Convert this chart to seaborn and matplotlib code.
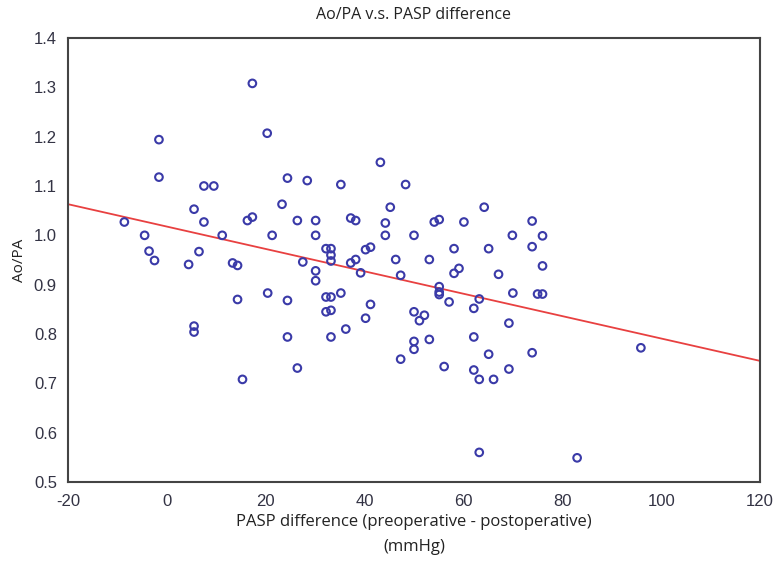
import matplotlib
matplotlib.use("Agg")
import matplotlib.pyplot as plt
import seaborn as sns
import pandas as pd
from matplotlib.ticker import MultipleLocator

pasp_diff = [17.3, 20.3, -1.6, -1.6, 24.4, 7.5, 9.5, 23.3, 5.5, -8.6, 7.5, 16.3, 17.3, 26.4,
             -4.5, 11.2, 21.3, -3.6, 6.5, -2.5, 4.4, 13.3, 14.3, 27.5, 14.3, 20.4, 24.4,
             5.5, 5.5, 24.4, 26.4, 15.3, 43.2, 28.4, 35.2, 48.3, 45.2, 64.2, 30.1, 37.2,
             38.2, 44.2, 54.1, 55.1, 60.1, 30.1, 44.2, 50.0, 69.9, 32.2, 33.2, 33.2, 40.2,
             41.2, 58.1, 65.1, 33.2, 37.2, 38.2, 46.3, 53.1, 30.1, 30.1, 39.2, 47.3, 58.1,
             59.1, 67.1, 55.1, 55.1, 55.1, 32.2, 33.2, 35.2, 57.1, 63.2, 70.0, 32.2, 33.2,
             41.2, 40.2, 50.0, 52.1, 51.1, 62.1, 33.2, 36.2, 50.0, 50.0, 53.1, 62.1, 69.2,
             47.3, 56.1, 62.1, 65.1, 63.2, 66.1, 69.2, 63.2, 73.9, 76.0, 73.9, 76.0, 75.0,
             76.0, 73.9, 95.9, 83.0]
ao_pa = [1.308, 1.207, 1.194, 1.118, 1.116, 1.100, 1.100, 1.063, 1.053, 1.027, 1.027, 1.030,
         1.037, 1.030, 1.000, 1.000, 1.000, 0.968, 0.967, 0.949, 0.941, 0.944, 0.939, 0.946,
         0.870, 0.883, 0.868, 0.816, 0.804, 0.794, 0.731, 0.708, 1.148, 1.111, 1.103, 1.103,
         1.057, 1.057, 1.030, 1.035, 1.030, 1.025, 1.027, 1.032, 1.027, 1.000, 1.000, 1.000,
         1.000, 0.973, 0.973, 0.960, 0.971, 0.976, 0.973, 0.973, 0.948, 0.944, 0.951, 0.951,
         0.951, 0.928, 0.908, 0.924, 0.919, 0.923, 0.933, 0.921, 0.896, 0.885, 0.880, 0.875,
         0.875, 0.883, 0.865, 0.871, 0.883, 0.845, 0.848, 0.860, 0.832, 0.845, 0.838, 0.827,
         0.852, 0.794, 0.810, 0.785, 0.769, 0.789, 0.794, 0.822, 0.749, 0.734, 0.727, 0.759,
         0.708, 0.708, 0.729, 0.560, 1.029, 0.999, 0.977, 0.938, 0.881, 0.881, 0.762, 0.772,
         0.549]

df = pd.DataFrame({"x": pasp_diff, "y": ao_pa})

sns.set_style("white")
plt.rcParams["font.family"] = ["Open Sans", "DejaVu Sans"]
plt.rcParams["axes.unicode_minus"] = False

fig = plt.figure(figsize=(7.76, 5.67), dpi=100)
ax = fig.add_axes([68 / 776, 1 - 482 / 567, (760 - 68) / 776, (482 - 38) / 567])
ax.set_xlim(-20, 120)
ax.set_ylim(0.5, 1.4)

sns.scatterplot(data=df, x="x", y="y", ax=ax, marker="o", s=30,
                facecolors="none", edgecolor="#3a3aa8", linewidth=1.5, zorder=3)
sns.regplot(data=df, x="x", y="y", ax=ax, scatter=False, ci=None, truncate=False,
            line_kws={"color": "#e84040", "linewidth": 1.3, "zorder": 2})

ax.set_xlim(-20, 120)
ax.set_ylim(0.5, 1.4)
ax.xaxis.set_major_locator(MultipleLocator(20))
ax.xaxis.set_minor_locator(MultipleLocator(5))
ax.yaxis.set_major_locator(MultipleLocator(0.1))
ax.yaxis.set_minor_locator(MultipleLocator(0.025))
ax.yaxis.set_major_formatter(plt.FuncFormatter(lambda v, p: f"{v:.1f}"))
ax.xaxis.set_major_formatter(plt.FuncFormatter(lambda v, p: f"{v:.0f}"))
ax.tick_params(which="both", direction="in", color="#333333", labelcolor="#333344",
               top=False, right=False)
ax.tick_params(which="major", length=4, width=1)
ax.tick_params(which="minor", length=2.5, width=0.8)
ax.tick_params(axis="x", which="major", pad=9)
ax.tick_params(axis="y", which="major", pad=8)
for lab in ax.get_xticklabels() + ax.get_yticklabels():
    lab.set_fontfamily(["Liberation Sans", "DejaVu Sans"])
    lab.set_fontsize(12)
for sp in ax.spines.values():
    sp.set_color("#444444")
    sp.set_linewidth(1.5)

ax.set_title("Ao/PA v.s. PASP difference", fontsize=11.5, pad=14, color="#222222")
ax.set_xlabel("PASP difference (preoperative - postoperative)\n(mmHg)", fontsize=12,
              labelpad=3, linespacing=1.75, color="#222222")
ax.set_ylabel("Ao/PA", fontsize=11, labelpad=5, color="#222222")

fig.savefig("out.png", dpi=100)
